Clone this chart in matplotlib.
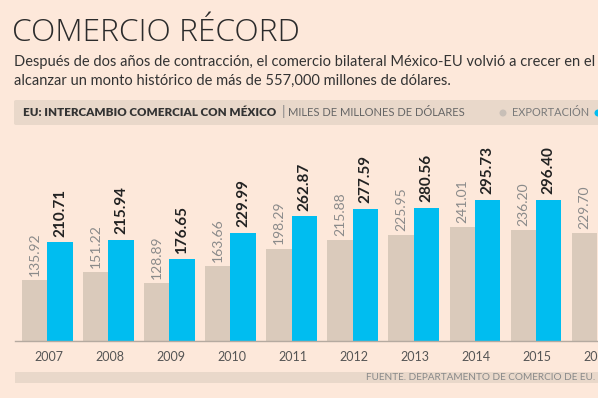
import numpy as np
import matplotlib
matplotlib.use("Agg")
import matplotlib.pyplot as plt
from matplotlib import patches

plt.rcParams['font.family'] = ['Lato', 'DejaVu Sans']

# data (billions of dollars)
years = ['2007', '2008', '2009', '2010', '2011', '2012', '2013', '2014', '2015', '2016']
exports = [135.92, 151.22, 128.89, 163.66, 198.29, 215.88, 225.95, 241.01, 236.20, 229.70]
imports = [210.71, 215.94, 176.65, 229.99, 262.87, 277.59, 280.56, 295.73, 296.40, np.nan]

title = "COMERCIO RÉCORD"
subtitle1 = "Después de dos años de contracción, el comercio bilateral México-EU volvió a crecer en el 2017"
subtitle2 = "alcanzar un monto histórico de más de 557,000 millones de dólares."
header_bold = "EU: INTERCAMBIO COMERCIAL CON MÉXICO"
header_units = "MILES DE MILLONES DE DÓLARES"
source = "FUENTE. DEPARTAMENTO DE COMERCIO DE EU."

bg = '#fde8da'
band = '#e9d8ca'
c_exp = '#dacabb'
c_imp = '#00bdf0'

W, H = 598, 398

def px(x, y):
    # pixel coords (from top-left) to figure fraction
    return x / W, 1 - y / H

fig = plt.figure(figsize=(W / 100, H / 100), dpi=100, facecolor=bg)

# title + subtitle
fig.text(*px(12, 41), title, fontsize=22.8, color='#2b2b2b', va='baseline',
         family=['Open Sans', 'DejaVu Sans'], fontweight='light')
fig.text(*px(14, 66), subtitle1, fontsize=10.5, color='#333333', va='baseline')
fig.text(*px(14, 85), subtitle2, fontsize=10.5, color='#333333', va='baseline')

# header band
x0, y0 = px(14, 125)
fig.patches.append(patches.FancyBboxPatch((x0, y0), 1.0, 25 / H,
                   boxstyle='round,pad=0,rounding_size=0.004',
                   transform=fig.transFigure, facecolor=band, edgecolor='none'))
fig.text(*px(23, 113), header_bold, fontsize=8.4, fontweight='heavy', color='#333333', va='center')
fig.text(*px(282, 112), "|", fontsize=10, color='#888888', va='center')
fig.text(*px(288, 113), header_units, fontsize=8, color='#666666', va='center')
fig.patches.append(patches.Ellipse(px(503, 113), 7 / W, 7 / H, transform=fig.transFigure,
                   facecolor='#c8bfb7', edgecolor='none'))
fig.text(*px(512, 113), "EXPORTACIÓN", fontsize=7.9, color='#7a7a7a', va='center')
fig.patches.append(patches.Ellipse(px(598, 113), 7 / W, 7 / H, transform=fig.transFigure,
                   facecolor=c_imp, edgecolor='none'))

# footer band
x0, y0 = px(15, 383)
fig.patches.append(patches.Rectangle((x0, y0), 1.0, 11 / H, transform=fig.transFigure,
                   facecolor=band, edgecolor='none'))
fig.text(*px(595, 378), source, fontsize=7.2, color='#8a8a8a', va='center', ha='right')

# bars
ax = fig.add_axes([15 / W, (H - 341) / H, (W - 15) / W, 211 / H])
ax.set_facecolor('none')
x = np.arange(len(years))
bw = 0.412
ax.bar(x - bw / 2, exports, bw, color=c_exp)
ax.bar(x + bw / 2, imports, bw, color=c_imp)

for i in range(len(years)):
    ax.annotate("%.2f" % exports[i], (x[i] - bw / 2, exports[i]), xytext=(0, 3),
                textcoords='offset points', rotation=90, ha='center', va='bottom',
                fontsize=10, color='#8a8a8a')
    if not np.isnan(imports[i]):
        ax.annotate("%.2f" % imports[i], (x[i] + bw / 2, imports[i]), xytext=(0, 4),
                    textcoords='offset points', rotation=90, ha='center', va='bottom',
                    fontsize=11, fontweight='bold', color='#222222')

ax.set_xlim(-0.53, 8.92)
ax.set_ylim(13.3, 435.9)
ax.set_xticks(x + 0.02)
ax.set_xticklabels(years)
ax.tick_params(axis='x', length=0, pad=7, labelsize=9, labelcolor='#555555')
ax.set_yticks([])
for s in ['top', 'left', 'right']:
    ax.spines[s].set_visible(False)
ax.spines['bottom'].set_color('#b5aaa0')
ax.spines['bottom'].set_linewidth(1)

fig.savefig('out.png', dpi=100, facecolor=bg)
